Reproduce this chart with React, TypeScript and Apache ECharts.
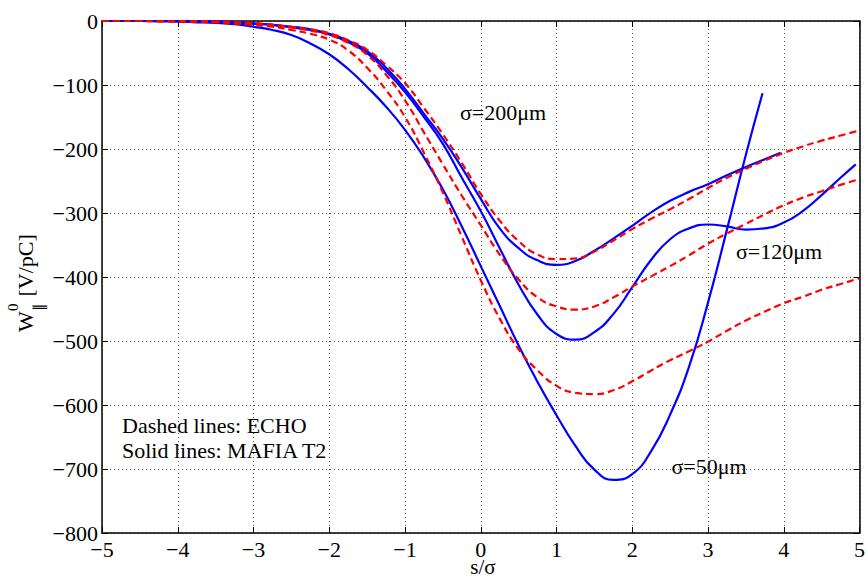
import React, { useEffect, useRef } from "react";
import * as echarts from "echarts";

// axis ticks
const xTickMin = -5;
const xTickMax = 5;
const xTickStep = 1;
const yTickMin = -800;
const yTickMax = 0;
const yTickStep = 100;

// curve data  [s/sigma, W (V/pC)]
const sigma200Mafia: [number, number][] = [
  [-5, 0], [-4.75, 0], [-4.5, 0], [-4.25, 0], [-4, 0], [-3.75, -0.5], [-3.5, -1], [-3.25, -2],
  [-3, -4], [-2.75, -6], [-2.5, -9], [-2.25, -13], [-2, -20], [-1.75, -31], [-1.5, -47],
  [-1.25, -73], [-1, -106], [-0.75, -145], [-0.5, -184], [-0.25, -229], [0, -278], [0.25, -324],
  [0.5, -355], [0.75, -374], [1, -381], [1.25, -375], [1.5, -359], [1.75, -340], [2, -320],
  [2.25, -299], [2.5, -281], [2.75, -267], [3, -255], [3.25, -241], [3.5, -228], [3.75, -216],
  [3.96, -206],
];
const sigma120Mafia: [number, number][] = [
  [-5, 0], [-4.75, 0], [-4.5, 0], [-4.25, 0], [-4, 0], [-3.75, -0.5], [-3.5, -1], [-3.25, -2],
  [-3, -4], [-2.75, -6], [-2.5, -10], [-2.25, -14], [-2, -21], [-1.75, -33], [-1.5, -50],
  [-1.25, -78], [-1, -111], [-0.75, -150], [-0.5, -192], [-0.25, -245], [0, -297], [0.25, -355],
  [0.5, -412], [0.75, -459], [1, -489], [1.25, -498], [1.5, -486], [1.75, -458], [2, -416],
  [2.25, -373], [2.5, -341], [2.75, -324], [3, -318], [3.25, -321], [3.5, -326], [3.75, -324],
  [4, -315], [4.25, -297], [4.5, -272], [4.75, -245], [4.95, -224],
];
const sigma50Mafia: [number, number][] = [
  [-5, 0], [-4.75, 0], [-4.5, 0], [-4.25, -0.5], [-4, -1], [-3.75, -2], [-3.5, -3], [-3.25, -5],
  [-3, -9], [-2.75, -14], [-2.5, -22], [-2.25, -35], [-2, -52], [-1.75, -75], [-1.5, -103],
  [-1.25, -134], [-1, -170], [-0.75, -213], [-0.5, -263], [-0.25, -321], [0, -383], [0.25, -445],
  [0.5, -507], [0.75, -564], [1, -616], [1.25, -664], [1.5, -701], [1.75, -717], [2, -708],
  [2.25, -672], [2.5, -615], [2.75, -540], [3, -440], [3.25, -326], [3.5, -209], [3.72, -113],
];
const sigma200Echo: [number, number][] = [
  [-5, 0], [-4.75, 0], [-4.5, 0], [-4.25, 0], [-4, 0], [-3.75, -0.5], [-3.5, -1], [-3.25, -2],
  [-3, -3], [-2.75, -6], [-2.5, -9], [-2.25, -13], [-2, -19], [-1.75, -30], [-1.5, -45],
  [-1.25, -69], [-1, -97], [-0.75, -136], [-0.5, -177], [-0.25, -222], [0, -270], [0.25, -312],
  [0.5, -344], [0.75, -365], [1, -372], [1.25, -371], [1.5, -360], [1.75, -343], [2, -325],
  [2.25, -309], [2.5, -294], [2.75, -278], [3, -261], [3.25, -245], [3.5, -231], [3.75, -218],
  [4, -206], [4.25, -196], [4.5, -187], [4.75, -179], [5, -171],
];
const sigma120Echo: [number, number][] = [
  [-5, 0], [-4.75, 0], [-4.5, 0], [-4.25, 0], [-4, 0], [-3.75, -0.5], [-3.5, -1], [-3.25, -2],
  [-3, -4], [-2.75, -6], [-2.5, -10], [-2.25, -15], [-2, -22], [-1.75, -34], [-1.5, -53],
  [-1.25, -84], [-1, -124], [-0.75, -174], [-0.5, -224], [-0.25, -273], [0, -319], [0.25, -365],
  [0.5, -404], [0.75, -432], [1, -446], [1.25, -451], [1.5, -446], [1.75, -432], [2, -415],
  [2.25, -399], [2.5, -383], [2.75, -366], [3, -348], [3.25, -332], [3.5, -317], [3.75, -302],
  [4, -288], [4.25, -276], [4.5, -266], [4.75, -256], [5, -247],
];
const sigma50Echo: [number, number][] = [
  [-5, 0], [-4.75, 0], [-4.5, 0], [-4.25, -0.5], [-4, -1], [-3.75, -1.5], [-3.5, -2], [-3.25, -4],
  [-3, -6], [-2.75, -9], [-2.5, -14], [-2.25, -20], [-2, -29], [-1.75, -46], [-1.5, -73],
  [-1.25, -108], [-1, -150], [-0.75, -206], [-0.5, -268], [-0.25, -337], [0, -405], [0.25, -465],
  [0.5, -513], [0.75, -546], [1, -570], [1.25, -581], [1.5, -583], [1.75, -577], [2, -563],
  [2.25, -546], [2.5, -530], [2.75, -516], [3, -501], [3.25, -484], [3.5, -468], [3.75, -454],
  [4, -441], [4.25, -431], [4.5, -420], [4.75, -411], [5, -402],
];

const solidSeries = [sigma200Mafia, sigma120Mafia, sigma50Mafia];
const dashedSeries = [sigma200Echo, sigma120Echo, sigma50Echo];
const solidNames = ["MAFIA T2 σ=200μm", "MAFIA T2 σ=120μm", "MAFIA T2 σ=50μm"];
const dashedNames = ["ECHO σ=200μm", "ECHO σ=120μm", "ECHO σ=50μm"];

const FONT = '"Liberation Serif", "Times New Roman", Times, serif';

export default function App() {
  const ref = useRef<HTMLDivElement>(null);
  useEffect(() => {
    if (!ref.current) return;
    const chart = echarts.init(ref.current, null, { renderer: "svg" });
    const minus = (v: number) => String(v).replace("-", "\u2212");
    const axisLine = { show: true, onZero: false, lineStyle: { color: "#000", width: 1.5 } };
    const axisTick = { show: true, inside: true, length: 6, lineStyle: { color: "#000", width: 1 } };
    const label = { fontFamily: FONT, fontSize: 22, color: "#000" };
    const gridLine = { show: true, lineStyle: { color: "#555", type: [1, 3], width: 1 } };

    const txt = (text: string, x: number, y: number, size = 22, align = "center", vAlign = "middle") => ({
      type: "text",
      x,
      y,
      silent: true,
      style: {
        text,
        fontFamily: FONT,
        fontSize: size,
        fill: "#000",
        align,
        textAlign: align,
        verticalAlign: vAlign,
        textVerticalAlign: vAlign,
      },
    });

    const option: any = {
      animation: false,
      backgroundColor: "#fff",
      grid: { left: 102, right: 4, top: 21, bottom: 45, containLabel: false },
      xAxis: [
        {
          type: "value", min: xTickMin, max: xTickMax, interval: xTickStep, position: "bottom",
          axisLine, axisTick,
          axisLabel: { ...label, formatter: minus, margin: 5 },
          splitLine: gridLine,
        },
        {
          type: "value", min: xTickMin, max: xTickMax, interval: xTickStep, position: "top",
          axisLine, axisTick, axisLabel: { show: false }, splitLine: { show: false },
        },
      ],
      yAxis: [
        {
          type: "value", min: yTickMin, max: yTickMax, interval: yTickStep, position: "left",
          axisLine, axisTick,
          axisLabel: { ...label, formatter: minus, margin: 4 },
          splitLine: gridLine,
        },
        {
          type: "value", min: yTickMin, max: yTickMax, interval: yTickStep, position: "right",
          axisLine, axisTick, axisLabel: { show: false }, splitLine: { show: false },
        },
      ],
      series: [
        ...solidSeries.map((d, i) => ({
          name: solidNames[i], type: "line", data: d, xAxisIndex: 0, yAxisIndex: 0,
          smooth: true, showSymbol: false, symbol: "none", clip: true,
          lineStyle: { color: "#0000ff", width: 2.2 },
        })),
        ...dashedSeries.map((d, i) => ({
          name: dashedNames[i], type: "line", data: d, xAxisIndex: 0, yAxisIndex: 0,
          smooth: true, showSymbol: false, symbol: "none", clip: true,
          lineStyle: { color: "#ff0000", width: 2.2, type: [7, 4] },
        })),
      ],
      graphic: [
        txt("σ=200μm", 503, 112),
        txt("σ=120μm", 779, 251),
        txt("σ=50μm", 709, 466),
        txt("Dashed lines: ECHO", 122, 425, 22, "left"),
        txt("Solid lines: MAFIA T2", 122, 450, 22, "left"),
        txt("s/σ", 483, 567, 21),
        {
          type: "group",
          x: 33,
          y: 280,
          rotation: Math.PI / 2,
          children: [
            { ...txt("W", -52, -7.4, 22, "left") },
            { ...txt("0", -31, -20, 15, "left") },
            { ...txt("∥", -31, 6, 15, "left") },
            { ...txt(" [V/pC]", -22, -7.4, 22, "left") },
          ],
        },
      ],
    };
    chart.setOption(option);
    return () => chart.dispose();
  }, []);
  return (
    <div
      ref={ref}
      style={{ position: "fixed", left: 0, top: 0, width: 868, height: 578, background: "#fff" }}
    />
  );
}
